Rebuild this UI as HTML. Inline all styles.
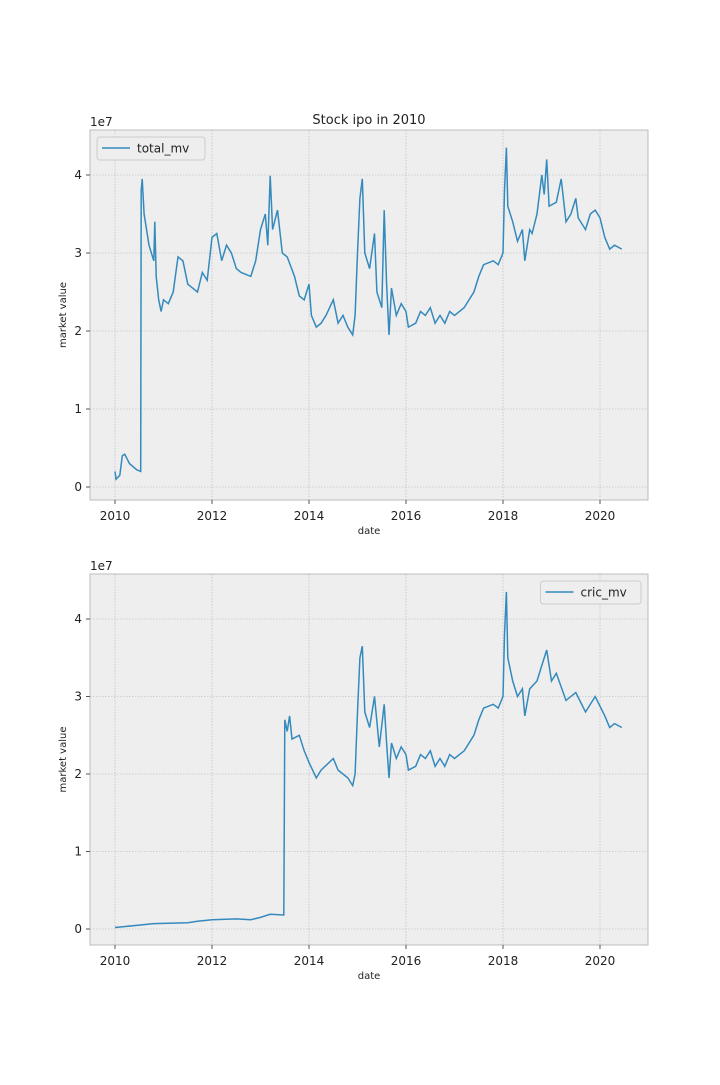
<!DOCTYPE html>
<html><head><meta charset="utf-8"><style>
body{margin:0;background:#fff;font-family:"Liberation Sans","DejaVu Sans",sans-serif;}
svg text{font-family:"DejaVu Sans","Liberation Sans",sans-serif;}
</style></head><body>
<svg id="fig" width="720" height="1080" xmlns="http://www.w3.org/2000/svg"></svg>
<script>
const years1 = [2010.0,2010.02,2010.1,2010.15,2010.2,2010.3,2010.45,2010.53,2010.54,2010.56,2010.6,2010.7,2010.8,2010.82,2010.85,2010.9,2010.95,2011.0,2011.1,2011.2,2011.3,2011.4,2011.5,2011.6,2011.7,2011.8,2011.9,2012.0,2012.1,2012.2,2012.3,2012.4,2012.5,2012.6,2012.8,2012.9,2013.0,2013.1,2013.15,2013.2,2013.25,2013.35,2013.45,2013.55,2013.7,2013.8,2013.9,2014.0,2014.05,2014.15,2014.25,2014.35,2014.5,2014.6,2014.7,2014.8,2014.9,2014.95,2015.0,2015.05,2015.1,2015.15,2015.25,2015.35,2015.4,2015.5,2015.55,2015.6,2015.65,2015.7,2015.8,2015.9,2016.0,2016.05,2016.2,2016.3,2016.4,2016.5,2016.6,2016.7,2016.8,2016.9,2017.0,2017.2,2017.4,2017.5,2017.6,2017.8,2017.9,2018.0,2018.03,2018.07,2018.1,2018.2,2018.3,2018.4,2018.45,2018.55,2018.6,2018.7,2018.8,2018.85,2018.9,2018.95,2019.1,2019.2,2019.3,2019.4,2019.5,2019.55,2019.7,2019.8,2019.9,2020.0,2020.1,2020.2,2020.3,2020.45];
const totalMv = [0.2,0.1,0.15,0.4,0.42,0.3,0.22,0.2,3.8,3.95,3.5,3.1,2.9,3.4,2.7,2.4,2.25,2.4,2.35,2.5,2.95,2.9,2.6,2.55,2.5,2.75,2.65,3.2,3.25,2.9,3.1,3.0,2.8,2.75,2.7,2.9,3.3,3.5,3.1,3.99,3.3,3.55,3.0,2.95,2.7,2.45,2.4,2.6,2.2,2.05,2.1,2.2,2.4,2.1,2.2,2.05,1.95,2.2,3.0,3.7,3.95,3.0,2.8,3.25,2.5,2.3,3.55,2.6,1.95,2.55,2.2,2.35,2.25,2.05,2.1,2.25,2.2,2.3,2.1,2.2,2.1,2.25,2.2,2.3,2.5,2.7,2.85,2.9,2.85,3.0,3.8,4.35,3.6,3.4,3.15,3.3,2.9,3.3,3.25,3.5,4.0,3.75,4.2,3.6,3.65,3.95,3.4,3.5,3.7,3.45,3.3,3.5,3.55,3.45,3.2,3.05,3.1,3.05];
const years2 = [2010.0,2010.5,2010.8,2011.5,2011.7,2012.0,2012.5,2012.8,2013.0,2013.2,2013.48,2013.5,2013.55,2013.6,2013.65,2013.8,2013.9,2014.0,2014.15,2014.25,2014.5,2014.6,2014.8,2014.9,2014.95,2015.0,2015.05,2015.1,2015.15,2015.25,2015.35,2015.45,2015.55,2015.6,2015.65,2015.7,2015.8,2015.9,2016.0,2016.05,2016.2,2016.3,2016.4,2016.5,2016.6,2016.7,2016.8,2016.9,2017.0,2017.2,2017.4,2017.5,2017.6,2017.8,2017.9,2018.0,2018.03,2018.07,2018.1,2018.2,2018.3,2018.4,2018.45,2018.55,2018.7,2018.8,2018.9,2019.0,2019.1,2019.3,2019.5,2019.7,2019.9,2020.1,2020.2,2020.3,2020.45];
const cricMv = [0.02,0.05,0.07,0.08,0.1,0.12,0.13,0.12,0.15,0.19,0.18,2.7,2.55,2.75,2.45,2.5,2.3,2.15,1.95,2.05,2.2,2.05,1.95,1.85,2.0,2.8,3.5,3.65,2.8,2.6,3.0,2.35,2.9,2.4,1.95,2.4,2.2,2.35,2.25,2.05,2.1,2.25,2.2,2.3,2.1,2.2,2.1,2.25,2.2,2.3,2.5,2.7,2.85,2.9,2.85,3.0,3.8,4.35,3.5,3.2,3.0,3.1,2.75,3.1,3.2,3.4,3.6,3.2,3.3,2.95,3.05,2.8,3.0,2.75,2.6,2.65,2.6];
const xTicks = [2010,2012,2014,2016,2018,2020];
const yTicks = [0,1,2,3,4];

const NS="http://www.w3.org/2000/svg";
const svg=document.getElementById('fig');
function mk(tag,attrs,parent){const e=document.createElementNS(NS,tag);for(const k in attrs)e.setAttribute(k,attrs[k]);(parent||svg).appendChild(e);return e;}

function panel(top, bottom, y0px, perUnit, xs, ys, label, legendRight, title, prefix){
  const L=90,R=648;
  const x=v=>115+(v-2010)*48.5;
  const y=v=>y0px-v*perUnit;
  const g=mk('g',{});
  
  
  mk('rect',{x:L,y:top,width:R-L,height:bottom-top,fill:'#eeeeee',stroke:'#bcbcbc','stroke-width':1},g);
  xTicks.forEach(t=>{
    mk('line',{x1:x(t),x2:x(t),y1:top,y2:bottom,stroke:'#b2b2b2','stroke-width':0.6,'stroke-dasharray':'1.5,1.5'},g);
    mk('line',{x1:x(t),x2:x(t),y1:bottom,y2:bottom+4,stroke:'#555'},g);
    const tx=mk('text',{x:x(t),y:bottom+20,'font-size':12,'text-anchor':'middle',fill:'#222'},g);
    
    
    tx.textContent=t;
  });
  yTicks.forEach(t=>{
    mk('line',{x1:L,x2:R,y1:y(t),y2:y(t),stroke:'#b2b2b2','stroke-width':0.6,'stroke-dasharray':'1.5,1.5'},g);
    mk('line',{x1:L-4,x2:L,y1:y(t),y2:y(t),stroke:'#555'},g);
    const tx=mk('text',{x:L-8,y:y(t)+4,'font-size':12,'text-anchor':'end',fill:'#222'},g);
    
    
    tx.textContent=t;
  });
  const off=mk('text',{x:L,y:top-4,'font-size':12,fill:'#222'},g);
  
  
  off.textContent='1e7';
  const xl=mk('text',{x:(L+R)/2,y:bottom+34,'font-size':10,'text-anchor':'middle',fill:'#222'},g);
  
  
  xl.textContent='date';
  const yc=(top+bottom)/2;
  const yl=mk('text',{x:66,y:yc,'font-size':10,'text-anchor':'middle',fill:'#222',transform:`rotate(-90 66 ${yc})`},g);
  
  
  yl.textContent='market value';
  if(title){
    const tt=mk('text',{x:(L+R)/2,y:top-6,'font-size':13,'text-anchor':'middle',fill:'#222'},g);
    
    
    tt.textContent=title;
  }
  let d='';
  xs.forEach((v,i)=>{d+=(i?'L':'M')+x(v).toFixed(1)+','+y(ys[i]).toFixed(1);});
  const p=mk('path',{d:d,fill:'none',stroke:'#348abd','stroke-width':1.5},g);
  
  
  const lw=label.length*7.5+48;
  const lx=legendRight?R-7-lw:L+7;
  const lg=mk('g',{},g);
  
  
  mk('rect',{x:lx,y:top+7,width:lw,height:23,rx:3,fill:'#eeeeee',stroke:'#cccccc'},lg);
  mk('line',{x1:lx+5,x2:lx+33,y1:top+18,y2:top+18,stroke:'#348abd','stroke-width':1.5},lg);
  const lt=mk('text',{x:lx+40,y:top+22.5,'font-size':12,fill:'#222'},lg);
  
  
  lt.textContent=label;
}
panel(130,500,487,78,years1,totalMv,'total_mv',false,'Stock ipo in 2010','top');
panel(574,945,929,77.5,years2,cricMv,'cric_mv',true,null,'bottom');
</script>
</body></html>
